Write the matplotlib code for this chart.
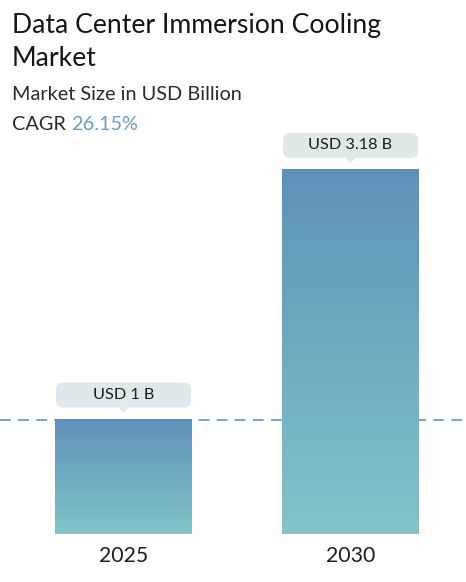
import numpy as np
import matplotlib
matplotlib.use("Agg")
import matplotlib.pyplot as plt
from matplotlib.patches import FancyBboxPatch, Polygon
from matplotlib.colors import LinearSegmentedColormap

# ---- data ----
years = ["2025", "2030"]
values = [1.0, 3.18]
value_labels = ["USD 1 B", "USD 3.18 B"]
title = "Data Center Immersion Cooling\nMarket"
subtitle = "Market Size in USD Billion"
cagr_label = "CAGR"
cagr_value = "26.15%"

W, H = 466, 582
fig = plt.figure(figsize=(W / 100, H / 100), dpi=100)
fig.patch.set_facecolor("white")

FONT = ["Lato", "DejaVu Sans"]

# axes geometry (pixels)
bottom_px = 48
px_per_unit = 114.5
ymax = 4.0
ax_h_px = ymax * px_per_unit
ax = fig.add_axes([0, bottom_px / H, 1, ax_h_px / H])
ax.set_ylim(0, ymax)
unit_x = 227.0
x0 = 123.5
ax.axis("off")

bar_w = 137 / unit_x
xs = np.arange(len(years))

cmap = LinearSegmentedColormap.from_list("g", ["#82c4c9", "#5e91b8"])
grad = np.linspace(0, 1, 256).reshape(-1, 1)

# dashed reference line at first value
ax.axhline(values[0], color="#6f9cc0", lw=1.3, ls=(0, (6, 4)), zorder=1)

for x, v in zip(xs, values):
    ax.imshow(grad, extent=(x - bar_w / 2, x + bar_w / 2, 0, v), origin="lower",
              cmap=cmap, aspect="auto", zorder=2, interpolation="bicubic")

for x, v, lab in zip(xs, values, value_labels):
    gap = 12 / px_per_unit
    bh = 25 / px_per_unit
    bw = 135 / unit_x
    box = FancyBboxPatch((x - bw / 2, v + gap), bw, bh,
                         boxstyle="round,pad=0,rounding_size=0.03",
                         mutation_aspect=unit_x / px_per_unit,
                         fc="#dfe9ec", ec="none", zorder=3)
    ax.add_patch(box)
    tw = 5 / unit_x
    th = 5 / px_per_unit
    ax.add_patch(Polygon([(x - tw, v + gap), (x + tw, v + gap), (x, v + gap - th)],
                         closed=True, fc="#dfe9ec", ec="none", zorder=3))
    ax.text(x, v + gap + bh / 2, lab, ha="center", va="center", fontsize=11.7,
            color="#1e1e1e", family=FONT, zorder=4)

for x, yr in zip(xs, years):
    ax.text(x, -12 / px_per_unit, yr, ha="center", va="top", fontsize=15.3,
            color="#1e1e1e", family=FONT)

ax.set_xlim(-x0 / unit_x, -x0 / unit_x + W / unit_x)

# header texts
fig.text(12 / W, 1 - 13 / H, title, ha="left", va="top", fontsize=19.2,
         color="#151515", family=FONT, linespacing=1.4)
fig.text(12 / W, 1 - 86 / H, subtitle, ha="left", va="top", fontsize=14.3,
         color="#2a2a2a", family=FONT)
t = fig.text(12 / W, 1 - 116 / H, cagr_label + " ", ha="left", va="top", fontsize=14.3,
             color="#2a2a2a", family=FONT)
fig.canvas.draw()
bb = t.get_window_extent()
fig.text(bb.x1 / W, 1 - 116 / H, cagr_value, ha="left", va="top", fontsize=14.3,
         color="#6a9ec5", family=FONT)

fig.savefig("out.png", dpi=100, facecolor="white")
